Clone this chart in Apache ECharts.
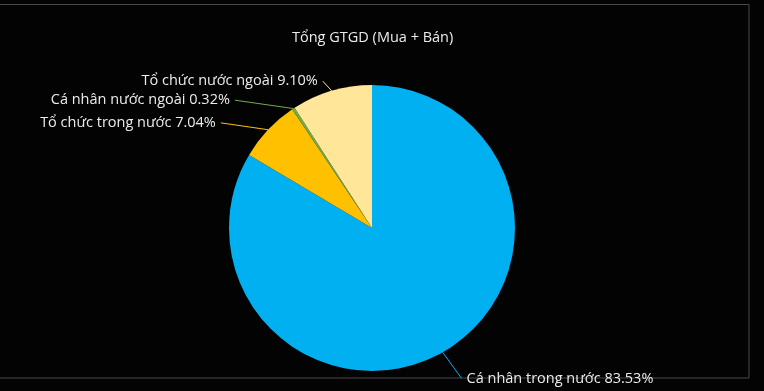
<!DOCTYPE html>
<html>
<head>
<meta charset="utf-8">
<script src="https://cdn.jsdelivr.net/npm/echarts@6/dist/echarts.min.js"></script>
<style>html,body{margin:0;padding:0;background:#030303;}#c{width:764px;height:391px;}</style>
</head>
<body>
<div id="c"></div>
<script>
const categories = ['Cá nhân trong nước', 'Tổ chức trong nước', 'Cá nhân nước ngoài', 'Tổ chức nước ngoài'];
const values = [83.53, 7.04, 0.32, 9.10];
const colors = ['#00b0f0', '#ffc000', '#70ad47', '#ffe699'];
// label line styling per slice (first segment, second segment)
const lineLen = [30, 10, 10, 10];
const lineLen2 = [4, 40, 53, 6];

const chart = echarts.init(document.getElementById('c'));
chart.setOption({
  backgroundColor: '#030303',
  animation: false,
  title: {
    text: 'Tổng GTGD (Mua + Bán)',
    left: 292,
    top: 30,
    padding: 0,
    textStyle: { color: '#ececec', fontSize: 14.5, fontWeight: 'normal', fontFamily: 'Open Sans' }
  },
  graphic: [{
    type: 'rect',
    shape: { x: -1, y: 4.5, width: 750, height: 373.5 },
    style: { fill: 'none', stroke: '#4a4a4a', lineWidth: 1 },
    silent: true
  }],
  series: [{
    type: 'pie',
    center: [372, 228],
    radius: 143,
    startAngle: 90,
    clockwise: true,
    data: categories.map((n, i) => ({
      name: n, value: values[i],
      itemStyle: { color: colors[i] },
      labelLine: { length: lineLen[i], length2: lineLen2[i] }
    })),
    label: {
      show: true,
      color: '#ececec',
      fontSize: 14.5,
      fontFamily: 'Open Sans',
      formatter: p => p.name + ' ' + p.value.toFixed(2) + '%'
    },
    labelLine: { show: true, smooth: false, lineStyle: { width: 1 } },
    labelLayout: function (params) {
      const pts = params.labelLinePoints;
      if (!pts || pts.length < 3) return {};
      const end = pts[pts.length - 1];
      return { labelLinePoints: [pts[0], end, end] };
    },
    itemStyle: { borderWidth: 0 }
  }]
});
</script>
</body>
</html>
